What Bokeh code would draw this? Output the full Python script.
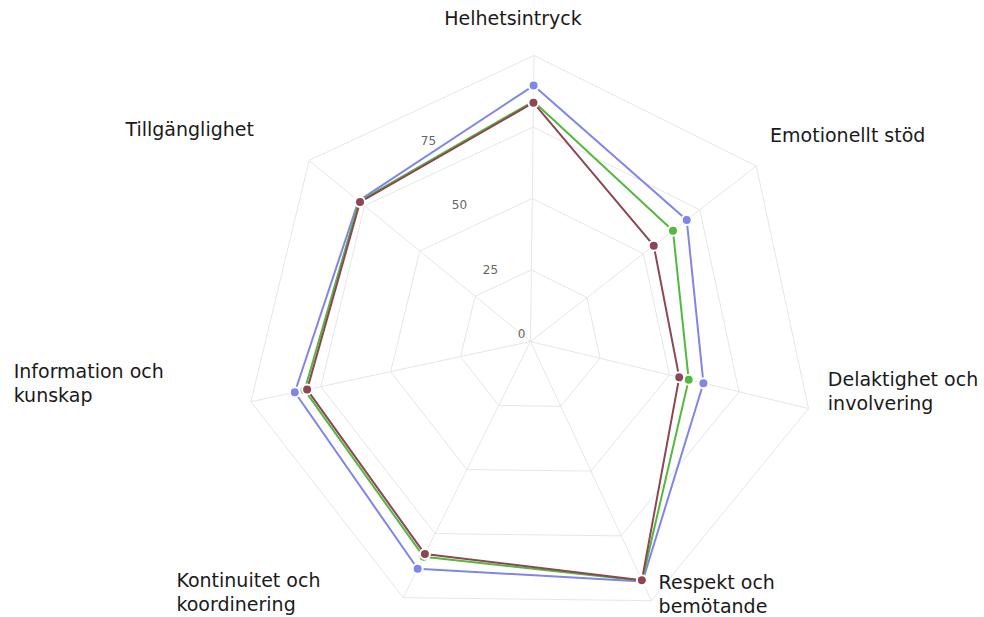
import numpy as np
from bokeh.plotting import figure
from bokeh.models import Range1d
from bokeh.embed import file_html
from bokeh.resources import INLINE
from bokeh.core.properties import value

# ---------------- data ----------------
categories = ["Helhetsintryck", "Emotionellt stöd", "Delaktighet och\ninvolvering",
              "Respekt och\nbemötande", "Kontinuitet och\nkoordinering",
              "Information och\nkunskap", "Tillgänglighet"]
series_blue = [89.5, 69.2, 62.2, 92.6, 88.7, 84.3, 77.7]
series_green = [84.0, 63.1, 56.9, 92.3, 84.0, 80.8, 77.4]
series_red = [83.5, 54.6, 53.5, 92.1, 83.0, 79.9, 77.0]
ring_values = [25, 50, 75, 100]
tick_values = [0, 25, 50, 75]
tick_labels = ["0", "25", "50", "75"]

# ---------------- styling / layout ----------------
W, H = 984, 617
CX, CY = 530, 341           # centre of the web inside the canvas (px)
RMAX = 286.0                 # radius of value 100 in px
VMAX = 100.0
ROT = np.deg2rad(0.7)        # slight clockwise rotation of the web
colors = ["#8085e9", "#52b83e", "#8d4653"]
grid_color = "#e6e6e6"
FONT = "DejaVu Sans"

n = len(categories)
base_ang = np.arange(n) * 2 * np.pi / n
ang = base_ang + ROT


def polar(vals, angles):
    r = np.asarray(vals, dtype=float) / VMAX * RMAX
    return r * np.sin(angles), r * np.cos(angles)


p = figure(width=W, height=H, output_backend="svg", toolbar_location=None,
           x_range=Range1d(-CX, W - CX), y_range=Range1d(-(H - CY), CY),
           min_border=0, x_axis_location=None, y_axis_location=None)
p.grid.visible = False
p.outline_line_color = None
p.background_fill_color = "white"
p.border_fill_color = "white"

# rings
for rv in ring_values:
    xs, ys = polar([rv] * (n + 1), np.append(ang, ang[0]))
    p.line(xs, ys, line_color=grid_color, line_width=1)

# spokes
ox, oy = polar([VMAX] * n, ang)
p.segment(x0=np.zeros(n), y0=np.zeros(n), x1=ox, y1=oy, line_color=grid_color, line_width=1)

# tick labels along the bisector between last and first axis
tang = -np.pi / n
tx, ty = polar(tick_values, np.full(len(tick_values), tang))
p.text(x=tx - 9, y=ty + 8, text=tick_labels, text_font=value(FONT), text_font_size="12px",
       text_color="#666666", text_align="center", text_baseline="middle")

# series
for vals, col in zip([series_blue, series_green, series_red], colors):
    xs, ys = polar(vals, ang)
    p.line(np.append(xs, xs[0]), np.append(ys, ys[0]), line_color=col, line_width=2)
    p.scatter(xs, ys, size=10, fill_color=col, line_color="white", line_width=2)

# category labels: offsets (px) from the (unrotated) outer vertex, alignment
lx, ly = polar([VMAX] * n, base_ang)
label_layout = [
    (-17.5, 38, "center"),
    (16, 28, "left"),
    (18.5, 14, "left"),
    (4, 5.5, "left"),
    (-230, 7.5, "left"),
    (-238, 22, "left"),
    (-53, 34, "right"),
]
for i, (dx, dy, al) in enumerate(label_layout):
    p.text(x=[lx[i] + dx], y=[ly[i] + dy], text=[categories[i]], text_font=value(FONT),
           text_font_size="19px", text_color="#1a1a1a", text_align=al,
           text_baseline="middle", text_line_height=1.1)

open("out.html", "w").write(file_html(p, INLINE))
